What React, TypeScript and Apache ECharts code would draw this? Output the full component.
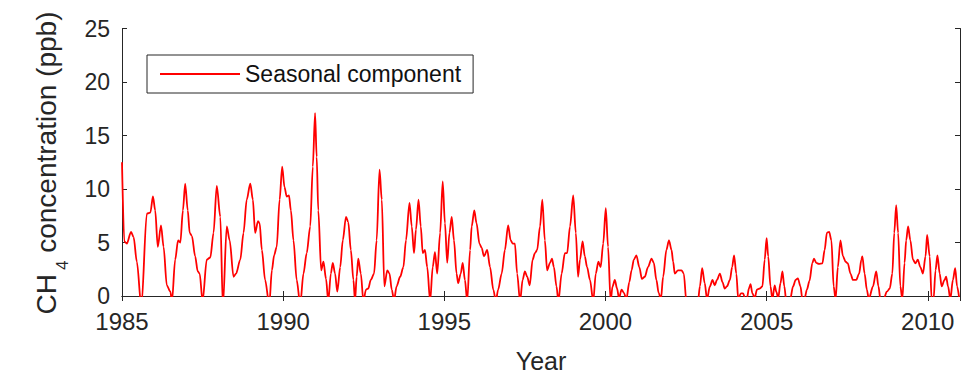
import React, { useEffect, useRef } from "react";
import * as echarts from "echarts";

// Seasonal component of CH4 concentration (ppb) as [decimal year, value]
const seg1985: number[][] = [
  [1985.0, 12.5], [1985.07, 5.1], [1985.15, 4.9], [1985.28, 6.0], [1985.36, 5.5], [1985.46, 3.2],
  [1985.6, -1.0], [1985.77, 7.7], [1985.88, 7.8], [1985.96, 9.3], [1986.03, 8.0], [1986.11, 4.6],
  [1986.21, 6.6], [1986.29, 4.6], [1986.39, 1.0], [1986.5, 0.4], [1986.55, -0.5], [1986.65, 3.4],
  [1986.74, 5.2], [1986.81, 5.0], [1986.89, 8.0], [1986.96, 10.5], [1987.04, 8.0], [1987.1, 5.9],
  [1987.17, 5.6], [1987.27, 3.7], [1987.35, 2.3], [1987.41, 2.1], [1987.5, -0.5], [1987.63, 3.4],
  [1987.74, 3.6], [1987.84, 5.9], [1987.94, 10.3], [1988.05, 7.4], [1988.13, -1.0], [1988.25, 6.5],
  [1988.34, 5.2], [1988.46, 1.8], [1988.54, 2.1], [1988.67, 3.4], [1988.77, 5.9], [1988.87, 9.0],
  [1988.98, 10.5], [1989.06, 9.0], [1989.13, 5.9], [1989.22, 7.0], [1989.27, 6.8], [1989.34, 4.3],
  [1989.44, 1.5], [1989.57, -0.8], [1989.65, 2.4], [1989.72, 3.8], [1989.8, 4.6], [1989.89, 9.0],
  [1989.97, 12.1],
];
const seg1990: number[][] = [
  [1990.04, 10.2], [1990.11, 9.3], [1990.18, 9.4], [1990.24, 8.0], [1990.32, 5.2], [1990.42, 1.5],
  [1990.53, -0.8], [1990.63, 2.1], [1990.73, 4.0], [1990.84, 6.5], [1990.92, 12.1], [1990.99, 17.1],
  [1991.04, 13.0], [1991.09, 8.0], [1991.18, 2.4], [1991.25, 3.2], [1991.33, 1.6], [1991.4, -0.5],
  [1991.48, 2.1], [1991.54, 3.1], [1991.61, 2.1], [1991.68, 0.4], [1991.77, 2.7], [1991.85, 5.2],
  [1991.95, 7.4], [1992.02, 6.9], [1992.1, 4.3], [1992.18, 1.5], [1992.23, -0.5], [1992.28, 1.8],
  [1992.33, 3.5], [1992.41, 2.1], [1992.49, -0.5], [1992.57, 0.6], [1992.64, 0.7], [1992.72, 1.5],
  [1992.82, 2.1], [1992.9, 5.2], [1992.99, 11.8], [1993.06, 9.0], [1993.14, 0.9], [1993.23, 2.4],
  [1993.3, 2.1], [1993.37, 0.6], [1993.44, -0.4], [1993.52, 0.9], [1993.63, 1.8], [1993.73, 2.7],
  [1993.81, 5.2], [1993.92, 8.7], [1993.99, 6.5], [1994.06, 4.0], [1994.12, 6.2], [1994.2, 9.0],
  [1994.27, 6.5], [1994.33, 4.0], [1994.4, 4.3], [1994.47, 2.7], [1994.56, -0.5], [1994.64, 2.7],
  [1994.71, 4.1], [1994.78, 2.1], [1994.87, 5.9], [1994.95, 10.7],
];
const seg1995: number[][] = [
  [1995.02, 6.8], [1995.09, 3.1], [1995.16, 5.9], [1995.23, 7.4], [1995.3, 5.2], [1995.38, 2.1],
  [1995.43, 1.2], [1995.51, 2.1], [1995.57, 3.1], [1995.64, 1.5], [1995.71, -0.5], [1995.8, 4.3],
  [1995.85, 6.5], [1995.93, 8.0], [1996.0, 6.8], [1996.09, 4.9], [1996.16, 4.5], [1996.23, 3.7],
  [1996.33, 4.3], [1996.42, 2.7], [1996.52, 0.6], [1996.6, -0.5], [1996.67, 0.6], [1996.78, 2.1],
  [1996.88, 4.3], [1996.98, 6.6], [1997.06, 5.2], [1997.12, 4.9], [1997.19, 4.9], [1997.26, 2.1],
  [1997.35, -0.5], [1997.43, 1.5], [1997.5, 2.3], [1997.57, 1.8], [1997.65, 1.0], [1997.74, 3.4],
  [1997.81, 4.0], [1997.88, 4.3], [1997.97, 6.5], [1998.04, 9.0], [1998.12, 5.2], [1998.19, 2.4],
  [1998.28, 3.1], [1998.34, 3.5], [1998.4, 2.7], [1998.48, 0.9], [1998.54, -0.5], [1998.64, 2.1],
  [1998.74, 4.0], [1998.81, 4.0], [1998.9, 6.5], [1999.0, 9.4], [1999.08, 5.9], [1999.15, 1.8],
  [1999.21, 3.4], [1999.29, 5.1], [1999.36, 3.7], [1999.43, 2.7], [1999.52, 1.5], [1999.62, -0.5],
  [1999.7, 2.1], [1999.78, 3.2], [1999.85, 2.7], [1999.93, 4.9],
];
const seg2000: number[][] = [
  [2000.01, 8.2], [2000.08, 4.6], [2000.16, -0.5], [2000.22, 0.9], [2000.29, 1.5], [2000.36, 0.7],
  [2000.42, -0.2], [2000.5, 0.6], [2000.57, 0.3], [2000.65, -0.3], [2000.74, 1.3], [2000.81, 2.4],
  [2000.88, 3.4], [2000.96, 3.8], [2001.05, 2.7], [2001.13, 1.6], [2001.22, 1.8], [2001.32, 2.7],
  [2001.43, 3.5], [2001.5, 3.1], [2001.58, 1.5], [2001.65, 0.3], [2001.72, -0.3], [2001.79, 1.8],
  [2001.89, 4.3], [2001.97, 5.2], [2002.05, 4.3], [2002.1, 3.2], [2002.15, 2.1], [2002.25, 2.4],
  [2002.36, 2.4], [2002.43, 2.1], [2002.51, -0.5], [2002.69, -1.5], [2002.87, -0.5], [2002.93, 0.9],
  [2003.0, 2.6], [2003.08, 1.2], [2003.15, -0.3], [2003.24, 0.9], [2003.32, 1.5], [2003.39, 1.0],
  [2003.46, 1.5], [2003.55, 2.1], [2003.63, 1.3], [2003.7, 0.7], [2003.77, 0.9], [2003.86, 1.5],
  [2003.93, 2.7], [2003.99, 3.8], [2004.06, 2.1], [2004.12, -0.3], [2004.2, 0.25], [2004.27, 0.25],
  [2004.33, -0.2], [2004.39, -0.2], [2004.45, 0.7], [2004.5, 1.1], [2004.56, 0.25], [2004.63, -0.2],
  [2004.7, 0.6], [2004.79, 0.7], [2004.87, 0.9], [2004.94, 3.4],
];
const seg2005: number[][] = [
  [2005.0, 5.4], [2005.05, 3.7], [2005.12, 0.9], [2005.18, -0.3], [2005.25, 1.0], [2005.3, 0.4],
  [2005.36, -0.2], [2005.43, 1.2], [2005.49, 2.3], [2005.55, 0.9], [2005.61, -0.5], [2005.72, -0.5],
  [2005.82, 0.9], [2005.9, 1.5], [2005.97, 1.65], [2006.05, 0.9], [2006.11, -0.3], [2006.18, -0.2],
  [2006.25, 0.6], [2006.33, 1.4], [2006.42, 3.1], [2006.47, 3.5], [2006.54, 3.1], [2006.62, 3.0],
  [2006.73, 3.05], [2006.8, 4.3], [2006.87, 5.9], [2006.94, 6.0], [2007.01, 5.2], [2007.08, 0.9],
  [2007.14, -0.3], [2007.21, 2.7], [2007.29, 5.2], [2007.37, 3.7], [2007.45, 3.2], [2007.52, 3.05],
  [2007.6, 2.1], [2007.68, 1.5], [2007.78, 1.5], [2007.87, 2.1], [2007.94, 3.4], [2007.97, 3.7],
  [2008.04, 2.1], [2008.11, 0.6], [2008.17, -0.3], [2008.3, 0.9], [2008.4, 2.3], [2008.47, 0.9],
  [2008.53, -0.3], [2008.63, -0.3], [2008.73, 0.4], [2008.82, 0.7], [2008.9, 2.1], [2008.96, 5.9],
  [2009.02, 8.5], [2009.08, 5.9], [2009.15, 0.9], [2009.21, -0.3], [2009.28, 3.1], [2009.33, 5.2],
  [2009.39, 6.5], [2009.46, 5.2], [2009.54, 3.4], [2009.62, 3.05], [2009.69, 3.4], [2009.77, 2.7],
  [2009.85, 2.1], [2009.93, 3.7], [2009.98, 5.7], [2010.06, 3.7], [2010.12, -0.3], [2010.18, -0.3],
  [2010.24, 2.4], [2010.3, 3.8], [2010.37, 2.1], [2010.43, 0.9], [2010.52, 1.5], [2010.57, 1.8],
  [2010.63, 0.9], [2010.7, -0.3], [2010.78, 1.5], [2010.85, 2.6], [2010.91, 0.9], [2010.98, -0.3],
];

const seriesName = "Seasonal component";
const xRange = [1985, 2011];
const xStep = 5;
const yRange = [0, 25];
const yStep = 5;
const yTitleParts = ["CH", "4", " concentration (ppb)"];

const FONT = '"Liberation Sans", Arial, Helvetica, sans-serif';
const INK = "#262626";

function measure(text: string, size: number): number {
  const c = document.createElement("canvas").getContext("2d");
  if (!c) return text.length * size * 0.5;
  c.font = `${size}px "Liberation Sans", Arial, sans-serif`;
  return c.measureText(text).width;
}

export default function App() {
  const ref = useRef<HTMLDivElement>(null);

  useEffect(() => {
    if (!ref.current) return;
    const chart = echarts.init(ref.current, null, { renderer: "svg" });
    const data = [...seg1985, ...seg1990, ...seg1995, ...seg2000, ...seg2005];

    const tick = { show: true, inside: true, length: 5, lineStyle: { color: INK, width: 1 } };
    const axLine = { show: true, lineStyle: { color: INK, width: 1 } };

    const xBase = {
      type: "value" as const,
      min: xRange[0],
      max: xRange[1],
      interval: xStep,
      splitLine: { show: false },
      axisLine: axLine,
      axisTick: tick,
    };
    const yBase = {
      type: "value" as const,
      min: yRange[0],
      max: yRange[1],
      interval: yStep,
      splitLine: { show: false },
      axisLine: axLine,
      axisTick: tick,
    };

    // y-axis title with subscript, built from text pieces
    const mainSize = 28;
    const subSize = 17;
    const subGap = 4;
    const w0 = measure(yTitleParts[0], mainSize);
    const w1 = measure(yTitleParts[1], subSize);
    const w2 = measure(yTitleParts[2], mainSize);
    const total = w0 + subGap + w1 + w2;
    const baseX = 56;
    const centerY = 163;
    const mid = (size: number) => -0.3465 * size;
    const tStyle = (text: string, size: number) => ({
      text,
      fontFamily: FONT,
      fontSize: size,
      fill: INK,
      align: "left",
      verticalAlign: "middle",
      textAlign: "left",
      textVerticalAlign: "middle",
    });

    chart.setOption({
      animation: false,
      backgroundColor: "#ffffff",
      grid: { left: 122, right: 12, top: 28.5, bottom: 77, outerBoundsMode: "none", containLabel: false },
      legend: {
        data: [seriesName],
        left: 147,
        top: 55,
        orient: "horizontal",
        icon: "rect",
        itemWidth: 80,
        itemHeight: 2,
        padding: [7, 12, 7, 13],
        borderColor: INK,
        borderWidth: 1,
        backgroundColor: "#ffffff",
        itemStyle: { color: "#ff0000" },
        textStyle: { fontFamily: FONT, fontSize: 23, color: "#111", lineHeight: 24 },
      },
      graphic: [
        {
          type: "group",
          x: baseX,
          y: centerY + total / 2,
          rotation: Math.PI / 2,
          silent: true,
          children: [
            { type: "text", x: 0, y: mid(mainSize), style: tStyle(yTitleParts[0], mainSize) },
            { type: "text", x: w0 + subGap, y: 12 + mid(subSize), style: tStyle(yTitleParts[1], subSize) },
            { type: "text", x: w0 + subGap + w1, y: mid(mainSize), style: tStyle(yTitleParts[2], mainSize) },
          ],
        },
      ],
      xAxis: [
        {
          ...xBase,
          position: "bottom",
          name: "Year",
          nameLocation: "middle",
          nameGap: 52,
          nameTextStyle: { fontFamily: FONT, fontSize: 25, color: INK },
          axisLabel: {
            fontFamily: FONT,
            fontSize: 24,
            color: INK,
            margin: 13,
            showMaxLabel: false,
            formatter: (v: number) => (v % xStep === 0 ? String(v) : ""),
          },
        },
        { ...xBase, position: "top", axisLabel: { show: false } },
      ],
      yAxis: [
        {
          ...yBase,
          position: "left",
          axisLabel: { fontFamily: FONT, fontSize: 23, color: INK, margin: 12 },
        },
        { ...yBase, position: "right", axisLabel: { show: false } },
      ],
      series: [
        {
          name: seriesName,
          type: "line",
          xAxisIndex: 0,
          yAxisIndex: 0,
          data,
          showSymbol: false,
          symbol: "none",
          smooth: 0.3,
          smoothMonotone: "x",
          clip: true,
          lineStyle: { color: "#ff0000", width: 1.8 },
          itemStyle: { color: "#ff0000" },
        },
      ],
    });

    return () => chart.dispose();
  }, []);

  return (
    <div
      ref={ref}
      style={{ position: "fixed", left: 0, top: 0, width: 972, height: 373, background: "#fff" }}
    />
  );
}
